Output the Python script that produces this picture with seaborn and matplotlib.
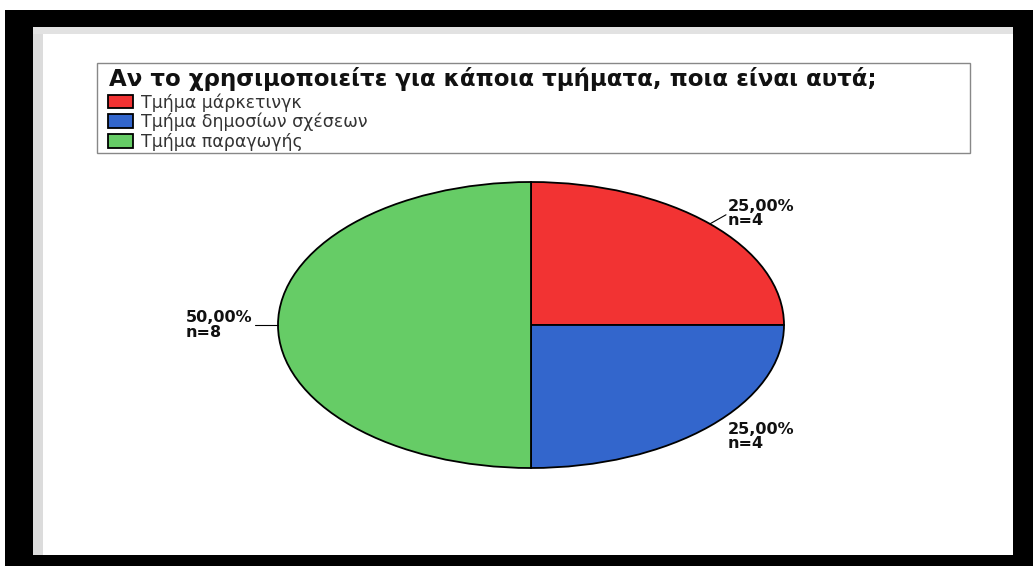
import matplotlib
matplotlib.use("Agg")
import matplotlib.pyplot as plt
from matplotlib.patches import Rectangle
import numpy as np
import seaborn as sns

# Survey answers
title = "Αν το χρησιμοποιείτε για κάποια τμήματα, ποια είναι αυτά;"
categories = ["Τμήμα μάρκετινγκ", "Τμήμα δημοσίων σχέσεων", "Τμήμα παραγωγής"]
counts = [4, 4, 8]
colors = ["#f23333", "#3366cc", "#66cc66"]

sns.set_theme(style="white")
plt.rcParams["font.family"] = ["DejaVu Sans"]

W, H = 1033, 566
fig = plt.figure(figsize=(W / 100, H / 100), dpi=100)
fig.patch.set_facecolor("white")


def px_rect(x0, y0, x1, y1, zorder=-5, **kw):
    """Rectangle given in pixel coordinates measured from the top-left corner."""
    fig.patches.append(Rectangle((x0 / W, 1 - y1 / H), (x1 - x0) / W, (y1 - y0) / H,
                                 transform=fig.transFigure, figure=fig, zorder=zorder, **kw))


# black outer frame with a white panel inside
px_rect(5, 10, W, H, facecolor="black", edgecolor="none")
px_rect(33, 27, 1013, 555, facecolor="white", edgecolor="none")
# soft grey rim along the inner left and top edges
px_rect(33, 27, 43, 555, facecolor="#dcdcdc", edgecolor="none")
px_rect(33, 27, 1013, 34, facecolor="#e2e2e2", edgecolor="none")

# pie area: an ellipse filling this axes box
left, right, top, bottom = 278, 784, 182, 468
ax = fig.add_axes([left / W, 1 - bottom / H, (right - left) / W, (bottom - top) / H])
ax.patch.set_alpha(0)

total = sum(counts)
labels = [f"{c / total * 100:.2f}%".replace(".", ",") + f"\nn={c}" for c in counts]

wedges, texts = ax.pie(
    counts, colors=colors, startangle=90, counterclock=False,
    labels=labels, labeldistance=1.1,
    wedgeprops=dict(edgecolor="black", linewidth=1.3),
    textprops=dict(fontsize=11.5, fontweight="bold", color="#111111"),
    frame=False,
)
ax.set_aspect("auto")
ax.set_xlim(-1, 1)
ax.set_ylim(-1, 1)
ax.axis("off")

for t in texts:
    t.set_clip_on(False)
    t.set_linespacing(0.95)
    t.set_multialignment("left")

# leader lines for the upper-right and left labels
for i in (0, 2):
    w = wedges[i]
    ang = np.deg2rad((w.theta1 + w.theta2) / 2)
    x0, y0 = np.cos(ang), np.sin(ang)
    ax.plot([x0, x0 * 1.09], [y0, y0 * 1.09], color="black", lw=0.8, clip_on=False)

# legend box with the question as its heading
px_rect(97, 63, 970, 153, zorder=1, facecolor="white", edgecolor="#888888", linewidth=1.0)
fig.text(109 / W, 1 - 86 / H, title, ha="left", va="baseline",
         fontsize=16.5, fontweight="bold", color="#111111", zorder=3)

leg = fig.legend(
    wedges, categories,
    loc="upper left",
    bbox_to_anchor=(108 / W, 1 - 93 / H),
    fontsize=12.5,
    frameon=False,
    handlelength=1.45, handleheight=0.85, handletextpad=0.45,
    labelspacing=0.08, borderpad=0, borderaxespad=0,
)
leg.set_zorder(4)
for t in leg.get_texts():
    t.set_color("#333333")

fig.savefig("out.png", dpi=100)
